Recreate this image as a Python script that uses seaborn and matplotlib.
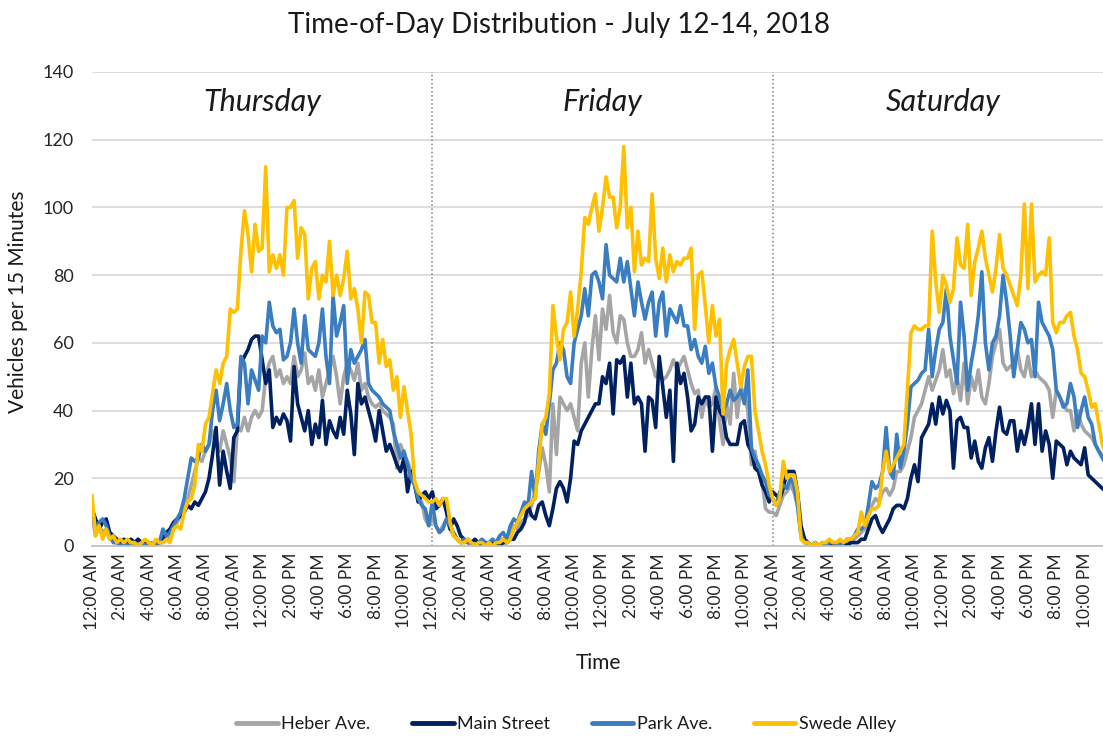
import numpy as np
import pandas as pd
import matplotlib
matplotlib.use("Agg")
import matplotlib.pyplot as plt
from matplotlib.lines import Line2D
import seaborn as sns

# vehicles per 15 minutes, 96 intervals per day
heber_thu = [
    9, 3, 6, 4, 5, 2, 2, 1,
    1, 0, 1, 1, 0, 1, 0, 1,
    0, 1, 0, 1, 1, 2, 3, 5,
    7, 9, 12, 14, 18, 22, 26, 25,
    28, 30, 34, 30, 28, 34, 30, 26,
    19, 35, 34, 38, 34, 38, 40, 38,
    40, 50, 54, 56, 50, 52, 48, 50,
    48, 56, 50, 52, 57, 48, 50, 46,
    52, 44, 48, 52, 56, 50, 42, 50,
    54, 52, 49, 54, 46, 48, 44, 42,
    41, 42, 40, 39, 38, 36, 23, 30,
    27, 25, 22, 19, 15, 13, 8, 6]
main_thu = [
    11, 8, 5, 7, 8, 4, 3, 2,
    1, 2, 1, 2, 1, 2, 1, 1,
    1, 0, 1, 1, 2, 4, 5, 7,
    8, 9, 10, 12, 11, 13, 12, 14,
    16, 20, 27, 35, 18, 28, 22, 17,
    32, 34, 54, 56, 58, 61, 62, 62,
    55, 48, 52, 35, 38, 36, 39, 37,
    31, 53, 42, 38, 34, 40, 30, 36,
    32, 43, 30, 37, 34, 32, 38, 33,
    46, 39, 27, 48, 42, 44, 40, 36,
    31, 40, 34, 28, 30, 27, 24, 22,
    26, 16, 22, 18, 13, 15, 16, 14]
park_thu = [
    10, 5, 7, 8, 6, 3, 1, 1,
    0, 1, 0, 1, 1, 0, 1, 0,
    1, 0, 1, 1, 5, 3, 4, 6,
    8, 10, 14, 20, 26, 25, 26, 30,
    28, 30, 40, 46, 37, 42, 48, 40,
    35, 36, 56, 54, 42, 52, 49, 46,
    62, 60, 72, 65, 63, 64, 55, 56,
    60, 70, 60, 54, 68, 58, 57, 56,
    60, 70, 56, 48, 74, 62, 66, 71,
    48, 58, 54, 56, 58, 61, 48, 46,
    45, 44, 42, 41, 40, 34, 30, 26,
    28, 24, 20, 18, 14, 12, 11, 6]
swede_thu = [
    15, 3, 6, 2, 5, 2, 3, 1,
    2, 1, 2, 1, 1, 0, 1, 2,
    1, 0, 2, 1, 1, 2, 1, 5,
    6, 5, 10, 13, 14, 18, 30, 28,
    36, 38, 45, 52, 48, 54, 56, 70,
    69, 70, 87, 99, 92, 81, 95, 87,
    88, 112, 81, 86, 82, 86, 80, 100,
    100, 102, 85, 94, 92, 73, 82, 84,
    73, 80, 78, 90, 74, 80, 74, 79,
    87, 73, 76, 70, 60, 75, 74, 66,
    66, 54, 61, 53, 55, 46, 50, 38,
    47, 40, 33, 19, 16, 15, 14, 13]

heber_fri = [
    8, 6, 4, 6, 8, 5, 3, 2,
    1, 1, 2, 1, 0, 1, 1, 0,
    1, 0, 1, 2, 2, 3, 4, 6,
    5, 7, 8, 9, 12, 16, 22, 29,
    24, 16, 42, 27, 44, 42, 40, 42,
    38, 34, 54, 60, 44, 58, 68, 55,
    70, 64, 74, 63, 60, 68, 67, 60,
    56, 56, 58, 63, 54, 58, 54, 50,
    52, 49, 50, 52, 55, 52, 54, 56,
    52, 48, 45, 46, 38, 44, 41, 42,
    47, 37, 30, 42, 36, 51, 38, 47,
    45, 40, 24, 28, 22, 19, 11, 10]
main_fri = [
    16, 11, 12, 14, 10, 5, 8, 6,
    3, 2, 1, 1, 2, 1, 0, 1,
    0, 1, 1, 0, 1, 1, 2, 2,
    4, 5, 7, 12, 9, 8, 12, 13,
    9, 6, 11, 17, 19, 17, 13, 20,
    31, 30, 34, 36, 38, 40, 42, 42,
    50, 48, 54, 39, 55, 54, 56, 44,
    54, 42, 44, 42, 28, 44, 43, 35,
    56, 47, 38, 46, 25, 54, 48, 51,
    44, 34, 36, 44, 42, 44, 44, 28,
    44, 40, 38, 32, 30, 30, 30, 36,
    37, 30, 28, 23, 22, 18, 16, 13]
park_fri = [
    13, 6, 4, 5, 8, 6, 4, 2,
    1, 2, 1, 1, 0, 1, 2, 1,
    1, 2, 1, 3, 4, 2, 6, 8,
    7, 10, 13, 12, 22, 14, 28, 36,
    33, 42, 52, 54, 60, 58, 50, 48,
    60, 64, 68, 76, 68, 80, 81, 78,
    73, 89, 80, 79, 78, 85, 78, 84,
    76, 68, 78, 72, 67, 72, 75, 62,
    72, 75, 62, 70, 68, 66, 71, 65,
    65, 58, 61, 56, 54, 59, 51, 54,
    47, 44, 40, 42, 46, 43, 44, 46,
    42, 52, 29, 26, 24, 21, 19, 15]
swede_fri = [
    13, 14, 12, 14, 14, 7, 3, 2,
    1, 1, 2, 1, 0, 1, 1, 0,
    1, 0, 1, 1, 2, 1, 2, 5,
    7, 9, 11, 12, 13, 14, 25, 36,
    38, 45, 71, 62, 55, 64, 66, 75,
    62, 70, 81, 97, 95, 100, 104, 93,
    100, 109, 103, 103, 94, 100, 118, 94,
    100, 81, 93, 83, 85, 84, 104, 85,
    79, 88, 78, 86, 81, 84, 83, 85,
    85, 88, 64, 80, 81, 71, 60, 71,
    62, 67, 39, 54, 58, 61, 54, 47,
    53, 56, 56, 40, 34, 28, 24, 18]

heber_sat = [
    10, 9, 12, 15, 16, 18, 16, 12,
    3, 1, 1, 0, 1, 0, 1, 0,
    1, 0, 1, 1, 1, 1, 2, 2,
    3, 4, 5, 9, 12, 14, 13, 16,
    17, 15, 17, 22, 22, 24, 28, 32,
    38, 40, 42, 46, 50, 46, 49, 52,
    58, 50, 52, 45, 50, 43, 54, 42,
    50, 46, 52, 44, 42, 48, 56, 60,
    64, 54, 52, 53, 54, 58, 52, 50,
    56, 50, 52, 50, 49, 48, 46, 38,
    46, 44, 42, 40, 40, 34, 40, 36,
    34, 33, 32, 30, 28, 27, 26, 25]
main_sat = [
    16, 15, 14, 17, 22, 22, 22, 16,
    6, 2, 1, 0, 1, 0, 0, 1,
    0, 1, 0, 0, 1, 0, 1, 1,
    1, 2, 2, 5, 8, 9, 6, 4,
    6, 8, 11, 12, 12, 11, 14, 20,
    24, 19, 32, 34, 36, 42, 36, 44,
    39, 43, 40, 23, 37, 38, 35, 35,
    26, 31, 25, 23, 29, 32, 25, 34,
    41, 34, 33, 37, 37, 28, 34, 30,
    35, 42, 30, 42, 28, 34, 30, 20,
    31, 30, 29, 24, 28, 26, 25, 24,
    29, 21, 20, 19, 18, 17, 16, 15]
park_sat = [
    14, 12, 16, 18, 17, 20, 18, 12,
    3, 1, 1, 0, 1, 0, 1, 0,
    1, 1, 1, 0, 1, 2, 2, 3,
    5, 5, 6, 12, 19, 17, 18, 22,
    35, 22, 20, 33, 23, 28, 36, 47,
    48, 49, 51, 52, 64, 50, 58, 64,
    66, 76, 62, 55, 48, 72, 62, 46,
    54, 60, 68, 81, 60, 52, 60, 62,
    68, 80, 72, 62, 50, 58, 66, 64,
    60, 61, 50, 72, 66, 64, 62, 58,
    46, 44, 41, 42, 48, 44, 35, 40,
    44, 38, 36, 30, 28, 26, 24, 22]
swede_sat = [
    14, 12, 14, 25, 20, 21, 21, 16,
    2, 1, 1, 0, 1, 0, 1, 1,
    2, 1, 1, 2, 1, 2, 2, 3,
    4, 10, 6, 9, 11, 11, 12, 22,
    28, 22, 24, 26, 28, 30, 46, 63,
    65, 64, 64, 65, 65, 93, 78, 69,
    80, 77, 72, 76, 91, 83, 82, 95,
    74, 84, 88, 93, 85, 80, 75, 82,
    92, 82, 80, 77, 74, 71, 80, 101,
    76, 101, 78, 80, 81, 80, 91, 66,
    63, 66, 66, 68, 69, 62, 58, 51,
    50, 46, 41, 42, 36, 30, 27, 24]

streets = ["Heber Ave.", "Main Street", "Park Ave.", "Swede Alley"]
days = ["Thursday", "Friday", "Saturday"]
tick_labels = ["12:00 AM", "2:00 AM", "4:00 AM", "6:00 AM", "8:00 AM", "10:00 AM",
               "12:00 PM", "2:00 PM", "4:00 PM", "6:00 PM", "8:00 PM", "10:00 PM"]
colors = {"Heber Ave.": "#a5a5a5", "Main Street": "#002060",
          "Park Ave.": "#3a7dc0", "Swede Alley": "#ffc000"}

series = {
    "Heber Ave.": heber_thu + heber_fri + heber_sat,
    "Main Street": main_thu + main_fri + main_sat,
    "Park Ave.": park_thu + park_fri + park_sat,
    "Swede Alley": swede_thu + swede_fri + swede_sat,
}

rows = []
for s in streets:
    for i, v in enumerate(series[s]):
        rows.append({"hour": i * 0.25, "vehicles": v, "street": s})
df = pd.DataFrame(rows)

sns.set_theme(style="white")
plt.rcParams["font.family"] = ["Lato", "DejaVu Sans"]

W, H = 1103, 736
fig = plt.figure(figsize=(W / 100, H / 100), dpi=100)
ax = fig.add_axes([92 / W, 190 / H, (1113 - 92) / W, 474 / H])

sns.lineplot(data=df, x="hour", y="vehicles", hue="street", hue_order=streets,
             palette=colors, linewidth=2.6, errorbar=None, legend=False, ax=ax)

ax.set_xlim(0, 72)
ax.set_ylim(0, 140)
ax.set_yticks(range(0, 141, 20))
ax.set_xticks(np.arange(0, 72, 2))
ax.set_xticklabels(tick_labels * 3, rotation=90, fontsize=12.5, color="#262626")
ax.tick_params(axis="x", length=0, pad=5)
ax.tick_params(axis="y", length=0, pad=13, labelsize=13, labelcolor="#262626")
ax.set_xlabel("")
ax.set_ylabel("")
ax.yaxis.grid(True, color="#d4d4d4", linewidth=1.1)
ax.set_axisbelow(True)
for side in ["top", "right", "left"]:
    ax.spines[side].set_visible(False)
ax.spines["bottom"].set_color("#bfbfbf")

for d in (24, 48):
    ax.axvline(d, color="#808080", linestyle=":", linewidth=1.1, zorder=1)

for k, name in enumerate(days):
    ax.text(12 + 24 * k, 131, name, ha="center", va="center",
            style="italic", fontsize=22, color="#1a1a1a")

fig.text(559 / W, 1 - 25 / H, "Time-of-Day Distribution - July 12-14, 2018",
         ha="center", va="center", fontsize=20, color="#1a1a1a")
fig.text(18 / W, 1 - 302 / H, "Vehicles per 15 Minutes", rotation=90,
         ha="center", va="center", fontsize=15, color="#1a1a1a")
fig.text(598 / W, 1 - 663 / H, "Time", ha="center", va="center",
         fontsize=15, color="#1a1a1a")

handles = [Line2D([], [], color=colors[s], linewidth=3.5) for s in streets]
fig.legend(handles, streets, loc="center", bbox_to_anchor=(566 / W, 1 - 724 / H),
           ncol=4, frameon=False, fontsize=13, handlelength=2.3,
           handletextpad=0.2, columnspacing=2.3, labelcolor="#1a1a1a")

fig.savefig("out.png", dpi=100)
